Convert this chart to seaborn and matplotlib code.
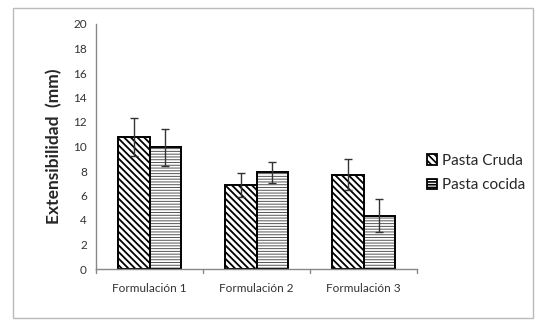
import matplotlib
matplotlib.use('Agg')
import matplotlib.pyplot as plt
import seaborn as sns
import pandas as pd
from matplotlib.patches import Rectangle, Patch

# datos
formulaciones = ['Formulación 1', 'Formulación 2', 'Formulación 3']
cruda = [10.8, 6.86, 7.7]
cocida = [9.93, 7.9, 4.35]
err_cruda = [1.55, 0.95, 1.25]
err_cocida = [1.5, 0.85, 1.33]
series = ['Pasta Cruda', 'Pasta cocida']

df = pd.DataFrame({
    'form': formulaciones * 2,
    'tipo': [series[0]] * 3 + [series[1]] * 3,
    'ext': cruda + cocida,
})
errs = err_cruda + err_cocida

sns.set_style('white')
plt.rcParams['font.family'] = ['Lato', 'DejaVu Sans']
plt.rcParams['hatch.linewidth'] = 1.2

fig = plt.figure(figsize=(5.35, 3.2), dpi=100)
ax = fig.add_axes([96/535, 1 - 269/320, 321/535, 245/320])

sns.barplot(data=df, x='form', y='ext', hue='tipo', palette=['white', 'white'],
            width=0.58, edgecolor='black', linewidth=1.4, ax=ax, legend=False,
            errorbar=None)

hatches = ['\\\\\\\\\\', '------']
hatch_lw = [1.3, 0.7]
hatch_col = ['black', '#555555']
bars = ax.patches
for i, b in enumerate(bars[:6]):
    k = i // 3
    b.set_hatch(hatches[k])
    b.set_edgecolor(hatch_col[k])
    b.set_linewidth(0)
    if hasattr(b, 'set_hatch_linewidth'):
        b.set_hatch_linewidth(hatch_lw[k])
    # contorno negro encima del rayado
    ax.add_patch(Rectangle(b.get_xy(), b.get_width(), b.get_height(),
                           fill=False, edgecolor='black', lw=1.4))
    ax.errorbar(b.get_x() + b.get_width() / 2, b.get_height(), yerr=errs[i],
                fmt='none', ecolor='#333333', elinewidth=1, capsize=3, capthick=1)

ax.set_ylim(0, 20)
ax.set_xlim(-0.5, 2.5)
ax.set_yticks(range(0, 21, 2))
ax.set_xlabel('')
ax.set_ylabel('Extensibilidad  (mm)', fontsize=12.5, fontweight='bold', labelpad=8)
ax.tick_params(axis='both', labelsize=8.5, colors='#333333', length=3)
ax.tick_params(axis='x', length=0, pad=10)
for s in ['top', 'right']:
    ax.spines[s].set_visible(False)
for s in ['left', 'bottom']:
    ax.spines[s].set_color('#888888')
    ax.spines[s].set_linewidth(1)
# marcas entre categorías
for xb in [-0.5, 0.5, 1.5, 2.5]:
    ax.plot([xb, xb], [0, -0.3], color='#888888', lw=1, clip_on=False)

handles = []
for h, l, lw_, c in zip(hatches, series, hatch_lw, hatch_col):
    p = Patch(facecolor='white', edgecolor=c, hatch=h, label=l)
    if hasattr(p, 'set_hatch_linewidth'):
        p.set_hatch_linewidth(lw_)
    handles.append(p)
leg = fig.legend(handles=handles, loc='upper left', bbox_to_anchor=(413/535, 1 - 140/320),
                 frameon=False, fontsize=11, handlelength=0.7, handleheight=0.7,
                 handletextpad=0.3, labelspacing=0.7)
for lp in leg.get_patches():
    lp.set_linewidth(1.3)
    lp.set_edgecolor('black')

fig.patches.append(Rectangle((13/535, 2/320), 520/535, 310/320, transform=fig.transFigure,
                             fill=False, edgecolor='#bbbbbb', lw=1))

fig.savefig('out.png', dpi=100)
